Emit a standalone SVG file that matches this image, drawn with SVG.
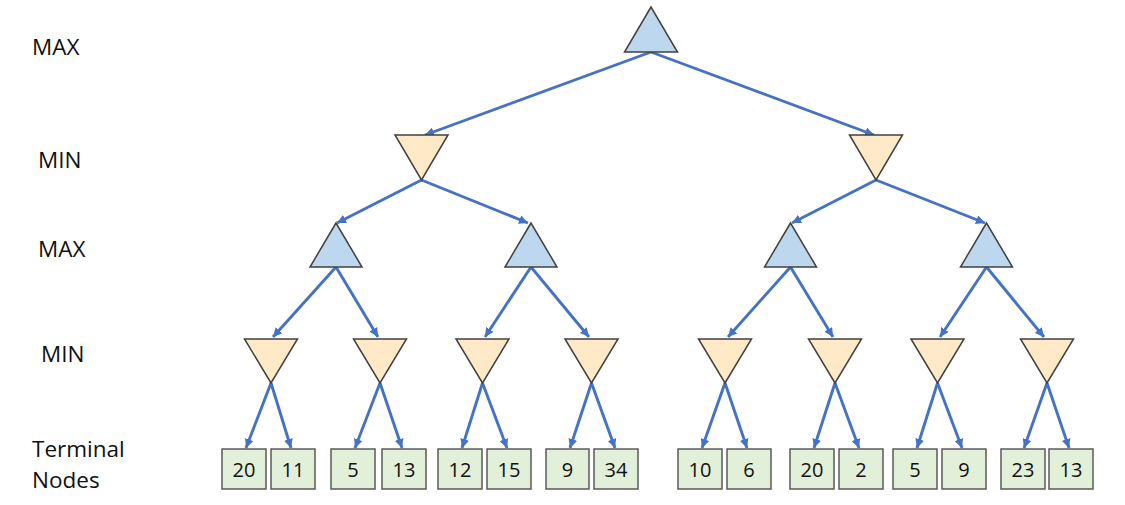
<svg xmlns="http://www.w3.org/2000/svg" width="1125" height="505" viewBox="0 0 1125 505">
<style>
.lbl{font-family:"Open Sans","Liberation Sans",sans-serif;font-size:22.5px;fill:#111111}
.num{font-family:"Open Sans","Liberation Sans",sans-serif;font-size:20px;fill:#111111;text-anchor:middle}
.max{fill:#BDD7EE;stroke:#404040;stroke-width:1.5;stroke-linejoin:miter}
.min{fill:#FFE9C6;stroke:#404040;stroke-width:1.5;stroke-linejoin:miter}
.box{fill:#E2F0D9;stroke:#595959;stroke-width:1.5}
.edge{stroke:#4472C4;stroke-width:2.9;fill:none;marker-end:url(#arr)}
</style>
<defs>
<marker id="arr" markerUnits="userSpaceOnUse" markerWidth="10" markerHeight="9" refX="9" refY="4.5" orient="auto">
<path d="M0,0 L9,4.5 L0,9 z" fill="#4472C4"/>
</marker>
</defs>
<rect width="1125" height="505" fill="#ffffff"/>
<g id="level-labels">
<text class="lbl" x="32" y="55">MAX</text>
<text class="lbl" x="38" y="168">MIN</text>
<text class="lbl" x="38" y="257">MAX</text>
<text class="lbl" x="41" y="362">MIN</text>
<text class="lbl" x="32" y="457">Terminal</text>
<text class="lbl" x="32" y="488">Nodes</text>
</g>
<g id="connectors">
<line class="edge" x1="651" y1="52" x2="425" y2="135"/>
<line class="edge" x1="651" y1="52" x2="874" y2="135"/>
<line class="edge" x1="421.5" y1="180" x2="337" y2="223"/>
<line class="edge" x1="421.5" y1="180" x2="528" y2="223"/>
<line class="edge" x1="876" y1="180" x2="792" y2="223"/>
<line class="edge" x1="876" y1="180" x2="985" y2="223"/>
<line class="edge" x1="336" y1="267" x2="273" y2="337"/>
<line class="edge" x1="336" y1="267" x2="378" y2="337"/>
<line class="edge" x1="531" y1="267" x2="485" y2="337"/>
<line class="edge" x1="531" y1="267" x2="589" y2="337"/>
<line class="edge" x1="790.5" y1="267" x2="728" y2="337"/>
<line class="edge" x1="790.5" y1="267" x2="833" y2="337"/>
<line class="edge" x1="986.5" y1="267" x2="940" y2="337"/>
<line class="edge" x1="986.5" y1="267" x2="1044" y2="337"/>
<line class="edge" x1="271" y1="383" x2="246" y2="448"/>
<line class="edge" x1="271" y1="383" x2="291" y2="448"/>
<line class="edge" x1="380" y1="383" x2="355" y2="448"/>
<line class="edge" x1="380" y1="383" x2="402" y2="448"/>
<line class="edge" x1="482.5" y1="383" x2="462" y2="448"/>
<line class="edge" x1="482.5" y1="383" x2="507" y2="448"/>
<line class="edge" x1="591.5" y1="383" x2="570" y2="448"/>
<line class="edge" x1="591.5" y1="383" x2="615" y2="448"/>
<line class="edge" x1="725" y1="383" x2="702" y2="448"/>
<line class="edge" x1="725" y1="383" x2="747" y2="448"/>
<line class="edge" x1="835" y1="383" x2="814" y2="448"/>
<line class="edge" x1="835" y1="383" x2="859" y2="448"/>
<line class="edge" x1="937.5" y1="383" x2="917" y2="448"/>
<line class="edge" x1="937.5" y1="383" x2="962" y2="448"/>
<line class="edge" x1="1047" y1="383" x2="1024" y2="448"/>
<line class="edge" x1="1047" y1="383" x2="1069" y2="448"/>
</g>
<g id="root"><polygon class="max" points="651,7 624.5,52 677.5,52"/></g>
<g id="min-l"><polygon class="min" points="395,135 448,135 421.5,180"/></g>
<g id="min-r"><polygon class="min" points="849.5,135 902.5,135 876,180"/></g>
<g id="max-ll"><polygon class="max" points="336,223 310,267 362,267"/></g>
<g id="max-lr"><polygon class="max" points="531,223 505,267 557,267"/></g>
<g id="max-rl"><polygon class="max" points="790.5,223 764.5,267 816.5,267"/></g>
<g id="max-rr"><polygon class="max" points="986.5,223 960.5,267 1012.5,267"/></g>
<g id="min-1"><polygon class="min" points="244.5,339 297.5,339 271,383"/></g>
<g id="min-2"><polygon class="min" points="353.5,339 406.5,339 380,383"/></g>
<g id="min-3"><polygon class="min" points="456,339 509,339 482.5,383"/></g>
<g id="min-4"><polygon class="min" points="565,339 618,339 591.5,383"/></g>
<g id="min-5"><polygon class="min" points="698.5,339 751.5,339 725,383"/></g>
<g id="min-6"><polygon class="min" points="808.5,339 861.5,339 835,383"/></g>
<g id="min-7"><polygon class="min" points="911,339 964,339 937.5,383"/></g>
<g id="min-8"><polygon class="min" points="1020.5,339 1073.5,339 1047,383"/></g>
<g id="t1"><rect class="box" x="222" y="449" width="44" height="40"/><text class="num" x="244" y="476.5">20</text></g>
<g id="t2"><rect class="box" x="271" y="449" width="44" height="40"/><text class="num" x="293" y="476.5">11</text></g>
<g id="t3"><rect class="box" x="331" y="449" width="44" height="40"/><text class="num" x="353" y="476.5">5</text></g>
<g id="t4"><rect class="box" x="382" y="449" width="44" height="40"/><text class="num" x="404" y="476.5">13</text></g>
<g id="t5"><rect class="box" x="438" y="449" width="44" height="40"/><text class="num" x="460" y="476.5">12</text></g>
<g id="t6"><rect class="box" x="487" y="449" width="44" height="40"/><text class="num" x="509" y="476.5">15</text></g>
<g id="t7"><rect class="box" x="546" y="449" width="43" height="40"/><text class="num" x="567.5" y="476.5">9</text></g>
<g id="t8"><rect class="box" x="594" y="449" width="44" height="40"/><text class="num" x="616" y="476.5">34</text></g>
<g id="t9"><rect class="box" x="678" y="449" width="44" height="40"/><text class="num" x="700" y="476.5">10</text></g>
<g id="t10"><rect class="box" x="727" y="449" width="44" height="40"/><text class="num" x="749" y="476.5">6</text></g>
<g id="t11"><rect class="box" x="790" y="449" width="44" height="40"/><text class="num" x="812" y="476.5">20</text></g>
<g id="t12"><rect class="box" x="839" y="449" width="44" height="40"/><text class="num" x="861" y="476.5">2</text></g>
<g id="t13"><rect class="box" x="893" y="449" width="44" height="40"/><text class="num" x="915" y="476.5">5</text></g>
<g id="t14"><rect class="box" x="942" y="449" width="44" height="40"/><text class="num" x="964" y="476.5">9</text></g>
<g id="t15"><rect class="box" x="1001" y="449" width="44" height="40"/><text class="num" x="1023" y="476.5">23</text></g>
<g id="t16"><rect class="box" x="1049" y="449" width="44" height="40"/><text class="num" x="1071" y="476.5">13</text></g>
</svg>
